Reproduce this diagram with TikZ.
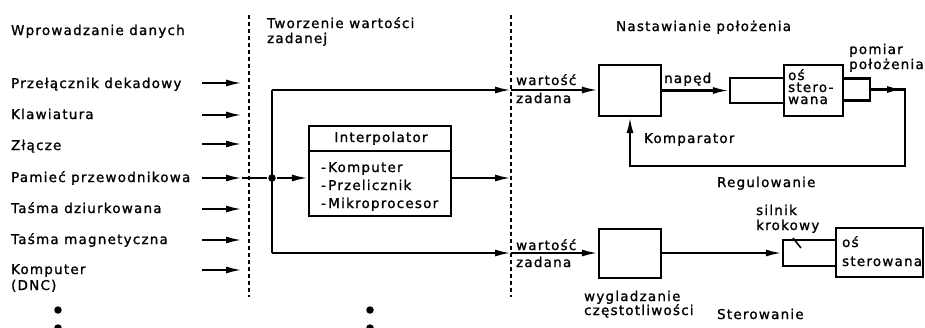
\documentclass[tikz,border=0pt]{standalone}
\usepackage{fontspec}
\setmainfont[LetterSpace=9,FakeBold=1.2]{DejaVu Sans}
\usetikzlibrary{arrows.meta}
\begin{document}
\begin{tikzpicture}[x=1pt,y=-1pt,line width=2.2pt,
  txt/.style={anchor=base west,inner sep=0pt,font=\fontsize{13.5}{15}\selectfont},
  arr/.style={-{Latex[length=16pt,width=7pt]}},
  blk/.style={draw,line width=2.2pt,inner sep=0pt},
  sepline/.style={line width=2.2pt,dash pattern=on 4pt off 3pt},
  bdot/.style={circle,fill,inner sep=0pt,minimum size=7.5pt}]
\useasboundingbox (0,0) rectangle (925,327);

% separators
\coordinate (s1t) at (249,15); \coordinate (s1b) at (249,297);
\coordinate (s2t) at (511,15); \coordinate (s2b) at (511,297);
\draw[sepline] (s1t) -- (s1b);
\draw[sepline] (s2t) -- (s2b);

% section headings
\node[txt] (h1) at (10,35) {Wprowadzanie danych};
\node[txt] (h2a) at (266,28) {Tworzenie wartości};
\node[txt] (h2b) at (266,43) {zadanej};
\node[txt] (h3) at (615,31) {Nastawianie położenia};

% input list
\node[txt] (i1) at (10,88) {Przełącznik dekadowy};
\node[txt] (i2) at (10,119) {Klawiatura};
\node[txt] (i3) at (10,150) {Złącze};
\node[txt] (i4) at (10,182) {Pamieć przewodnikowa};
\node[txt] (i5) at (10,213) {Taśma dziurkowana};
\node[txt] (i6) at (10,244) {Taśma magnetyczna};
\node[txt] (i7a) at (10,274) {Komputer};
\node[txt] (i7b) at (10,290) {(DNC)};

\foreach \n/\y in {1/83,2/115,3/144,4/178,5/209,6/240,7/270}{
  \coordinate (a\n s) at (202,\y);
  \coordinate (a\n e) at (242,\y);
  \draw[arr] (a\n s) -- (a\n e);
}

% continuation dots
\node[bdot] (d1) at (58,310) {};
\node[bdot] (d2) at (58,328) {};
\node[bdot] (d3) at (370,310) {};
\node[bdot] (d4) at (370,328) {};

% junction
\node[bdot] (j) at (272,178) {};
\coordinate (jt) at (272,90);
\coordinate (jb) at (272,253);
\draw (a4e) -- (j);
\draw (jt) -- (jb);

% interpolator
\node[blk,minimum width=142pt,minimum height=90pt] (ip) at (380,171) {};
\coordinate (ipdl) at (309,151); \coordinate (ipdr) at (451,151);
\draw (ipdl) -- (ipdr);
\node[txt,anchor=base] (ipt) at (381,142) {Interpolator};
\node[txt] (ip1) at (320,172) {-\,Komputer};
\node[txt] (ip2) at (320,190) {-\,Przelicznik};
\node[txt] (ip3) at (320,208) {-\,Mikroprocesor};
\draw[arr] (j) -- (j -| ip.west);

% outputs to the dashed line
\coordinate (o1) at (511,90);
\coordinate (o2) at (511,178);
\coordinate (o3) at (511,253);
\draw[arr] (jt) -- (o1);
\draw[arr] (o2 -| ip.east) -- (o2);
\draw[arr] (jb) -- (o3);

% ---- Regulowanie (closed loop)
\node[txt] (w1a) at (515,85) {wartość};
\node[txt] (w1b) at (515,103) {zadana};
\node[blk,minimum width=62pt,minimum height=51pt] (cmp) at (630,90.5) {};
\draw[arr] (o1) -- (o1 -| cmp.west);
\node[txt] (nap) at (663,83) {napęd};
\node[blk,minimum width=54pt,minimum height=25pt] (mot) at (757,90.5) {};
\draw[arr] (cmp.east) -- (mot.west);
\node[blk,fill=white,minimum width=59pt,minimum height=51pt] (ax1) at (813.5,90.5) {};
\node[txt] (ax1a) at (787,80) {oś};
\node[txt] (ax1b) at (787,92) {stero-};
\node[txt] (ax1c) at (787,104) {wana};
\node[blk,minimum width=27pt,minimum height=22pt] (ms) at (856.5,89.5) {};
\node[txt] (pm1) at (848,54) {pomiar};
\node[txt] (pm2) at (848,69) {położenia};
\coordinate (fbA) at (903,89.5);
\coordinate (fbB) at (905,166);
\draw[arr] (ms.east) -- (fbA);
\draw[arr] (ms.east) -| (fbB) -| (cmp.south);
\node[txt] (kom) at (643,143) {Komparator};
\node[txt] (reg) at (716,187) {Regulowanie};

% ---- Sterowanie (open loop)
\node[txt] (w2a) at (515,250) {wartość};
\node[txt] (w2b) at (515,267) {zadana};
\node[blk,minimum width=62pt,minimum height=49pt] (sm) at (630,253.5) {};
\draw[arr] (o3) -- (o3 -| sm.west);
\node[blk,minimum width=53pt,minimum height=26pt] (stp) at (809.5,253) {};
\draw[arr] (o3 -| sm.east) -- (o3 -| stp.west);
\coordinate (sl1) at (793,238); \coordinate (sl2) at (801,248);
\draw[line width=1.5pt] (sl1) -- (sl2);
\node[txt] (sk1) at (755,215) {silnik};
\node[txt] (sk2) at (755,230) {krokowy};
\node[blk,fill=white,minimum width=87pt,minimum height=49pt] (ax2) at (879.5,252.5) {};
\node[txt] (ax2a) at (841,247) {oś};
\node[txt] (ax2b) at (841,266) {sterowana};
\node[txt] (wg1) at (583,301) {wygladzanie};
\node[txt] (wg2) at (583,315) {częstotliwości};
\node[txt] (ster) at (716,319) {Sterowanie};
\end{tikzpicture}
\end{document}
